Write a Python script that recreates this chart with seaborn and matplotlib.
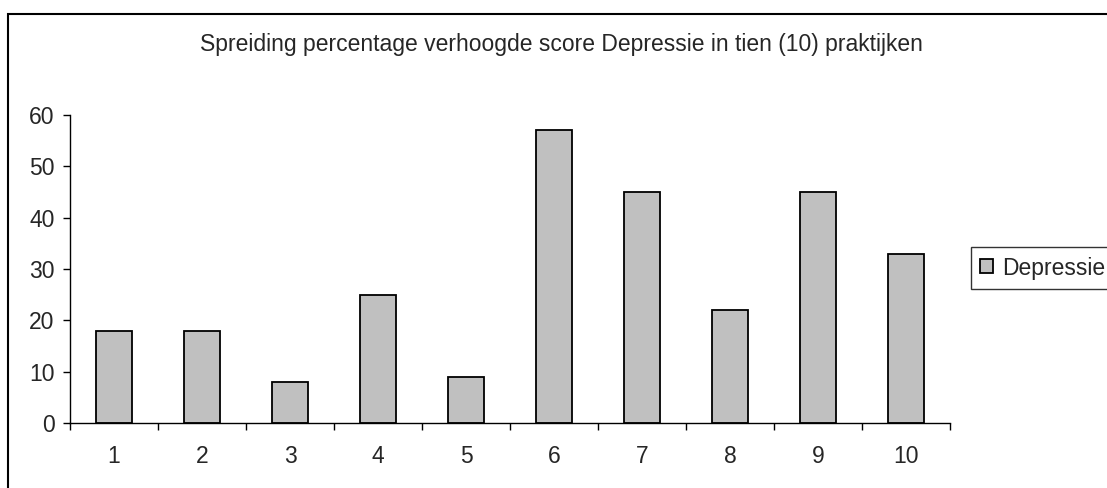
import matplotlib
matplotlib.use("Agg")
import matplotlib.pyplot as plt
import seaborn as sns
import pandas as pd
from matplotlib.patches import Rectangle
from matplotlib.ticker import FixedLocator

categories = ["1", "2", "3", "4", "5", "6", "7", "8", "9", "10"]
values = [18, 18, 8, 25, 9, 57, 45, 22, 45, 33]
series_name = "Depressie"
title = "Spreiding percentage verhoogde score Depressie in tien (10) praktijken"
yticks = [0, 10, 20, 30, 40, 50, 60]

sns.set_style("white")
plt.rcParams["font.family"] = ["Liberation Sans", "DejaVu Sans"]

FS = 16.5
W, H = 1107, 488
fig = plt.figure(figsize=(W / 100, H / 100), dpi=100)
ax = fig.add_axes([70 / W, 1 - 423 / H, 880 / W, 308 / H])

df = pd.DataFrame({"praktijk": categories, "pct": values})
sns.barplot(data=df, x="praktijk", y="pct", color="#C0C0C0", edgecolor="black",
            linewidth=1.3, width=0.41, saturation=1, label=series_name, ax=ax)

ax.set_xlim(-0.5, len(categories) - 0.5)
ax.set_ylim(0, 60)
ax.set_xlabel("")
ax.set_ylabel("")
for s in ["top", "right"]:
    ax.spines[s].set_visible(False)
for s in ["left", "bottom"]:
    ax.spines[s].set_color("black")
    ax.spines[s].set_linewidth(1.0)

ax.set_yticks(yticks)
ax.set_yticklabels([str(v) for v in yticks])
ax.tick_params(axis="y", direction="out", length=5, width=1, color="black",
               pad=6, labelsize=FS, left=True)

n = len(categories)
ax.xaxis.set_major_locator(FixedLocator([i - 0.5 for i in range(n + 1)]))
ax.xaxis.set_minor_locator(FixedLocator(list(range(n))))
ax.set_xticklabels([""] * (n + 1))
ax.set_xticklabels(categories, minor=True)
ax.tick_params(axis="x", which="major", direction="out", length=5, width=1,
               color="black", bottom=True)
ax.tick_params(axis="x", which="minor", length=0, pad=16, labelsize=FS, bottom=True)

fig.text(561 / W, 1 - 44 / H, title, ha="center", va="center", fontsize=FS)

leg = ax.legend(loc="center left", bbox_to_anchor=(971 / W, 1 - 268 / H),
                bbox_transform=fig.transFigure, frameon=True, fancybox=False,
                fontsize=FS, handlelength=0.57, handleheight=0.57,
                handletextpad=0.4, borderpad=0.4, borderaxespad=0)
leg.get_frame().set_edgecolor("black")
leg.get_frame().set_linewidth(1.0)

fig.patches.append(Rectangle((8 / W, -0.2), 1.5, 1.2 - 14 / H, transform=fig.transFigure,
                             fill=False, edgecolor="black", linewidth=1.5))

fig.savefig("out.png", dpi=100)
